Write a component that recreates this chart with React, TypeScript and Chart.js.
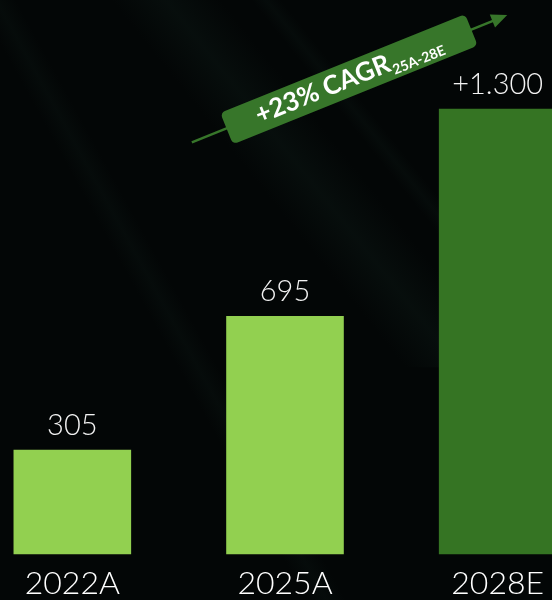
import React, { useEffect, useRef } from "react";
import { Chart, registerables } from "chart.js";

Chart.register(...registerables);

const categories = ["2022A", "2025A", "2028E"];
const values = [305, 695, 1300];
const valueLabels = ["305", "695", "+1.300"];
const barColors = ["#92D050", "#92D050", "#357423"];
const cagrMain = "+23% CAGR";
const cagrSub = "25A-28E";

const FONT = "Lato, 'Open Sans', sans-serif";

export default function App() {
  const ref = useRef<HTMLCanvasElement>(null);

  useEffect(() => {
    document.body.style.margin = "0";
    document.body.style.overflow = "hidden";
    document.body.style.background = "#030606";

    const bgPlugin = {
      id: "bg",
      beforeDraw(chart: any) {
        const { ctx, width, height } = chart;
        ctx.save();
        ctx.fillStyle = "#030606";
        ctx.fillRect(0, 0, width, height);
        const drawStreak = (xTop: number, w: number, slope: number, alpha: number, h: number) => {
          ctx.save();
          ctx.translate(xTop, 0);
          ctx.transform(1, 0, slope, 1, 0, 0);
          const g = ctx.createLinearGradient(-w / 2, 0, w / 2, 0);
          g.addColorStop(0, "rgba(25,50,42,0)");
          g.addColorStop(0.5, `rgba(25,50,42,${alpha})`);
          g.addColorStop(1, "rgba(25,50,42,0)");
          ctx.fillStyle = g;
          ctx.fillRect(-w / 2, 0, w, h);
          ctx.restore();
        };
        drawStreak(200, 110, 0.8, 0.18, height * 0.6);
        drawStreak(300, 30, 0.8, 0.12, height * 0.5);
        drawStreak(30, 40, 0.55, 0.12, height);
        ctx.restore();
      },
    };

    const annotPlugin = {
      id: "annot",
      afterDatasetsDraw(chart: any) {
        const { ctx } = chart;
        const xs = chart.scales.x;
        const ys = chart.scales.y;
        const meta = chart.getDatasetMeta(0);

        // value labels
        ctx.save();
        ctx.fillStyle = "#F2F2F2";
        ctx.font = `300 29px ${FONT}`;
        ctx.textAlign = "center";
        ctx.textBaseline = "alphabetic";
        meta.data.forEach((bar: any, i: number) => {
          ctx.fillText(valueLabels[i], bar.x, bar.y - 15);
        });
        ctx.restore();

        // CAGR arrow
        const sx = xs.getPixelForValue(0.562);
        const sy = ys.getPixelForValue(1202);
        const ex = xs.getPixelForValue(2.045);
        const ey = ys.getPixelForValue(1573);
        const ang = Math.atan2(ey - sy, ex - sx);
        const len = Math.hypot(ex - sx, ey - sy);
        const green = "#37762A";
        ctx.save();
        ctx.translate(sx, sy);
        ctx.rotate(ang);
        ctx.strokeStyle = green;
        ctx.lineWidth = 2.5;
        ctx.beginPath();
        ctx.moveTo(0, 0);
        ctx.lineTo(len - 12, 0);
        ctx.stroke();
        ctx.fillStyle = green;
        ctx.beginPath();
        ctx.moveTo(len, 0);
        ctx.lineTo(len - 16, -7);
        ctx.lineTo(len - 16, 7);
        ctx.closePath();
        ctx.fill();
        ctx.restore();

        // badge
        const cx = xs.getPixelForValue(1.301);
        const cy = ys.getPixelForValue(1386);
        const bw = 264;
        const bh = 34;
        ctx.save();
        ctx.translate(cx, cy);
        ctx.rotate(ang);
        ctx.fillStyle = green;
        ctx.beginPath();
        (ctx as any).roundRect(-bw / 2, -bh / 2, bw, bh, 5);
        ctx.fill();
        ctx.fillStyle = "#FFFFFF";
        ctx.textBaseline = "alphabetic";
        ctx.textAlign = "left";
        ctx.font = `bold 26px ${FONT}`;
        const w1 = ctx.measureText(cagrMain).width;
        ctx.font = `bold 14px ${FONT}`;
        const w2 = ctx.measureText(cagrSub).width;
        const startX = -(w1 + w2 + 1) / 2;
        ctx.font = `bold 26px ${FONT}`;
        ctx.fillText(cagrMain, startX, 8);
        ctx.font = `bold 14px ${FONT}`;
        ctx.fillText(cagrSub, startX + w1 + 1, 13);
        ctx.restore();
      },
    };

    const chart = new Chart(ref.current as HTMLCanvasElement, {
      type: "bar",
      data: {
        labels: categories,
        datasets: [
          {
            data: values,
            backgroundColor: barColors,
            borderWidth: 0,
            categoryPercentage: 1,
            barPercentage: 0.553,
          },
        ],
      },
      options: {
        animation: false,
        responsive: true,
        maintainAspectRatio: false,
        layout: { padding: 0 },
        plugins: {
          legend: { display: false },
          tooltip: { enabled: false },
        },
        scales: {
          x: {
            grid: { display: false, drawTicks: false },
            border: { display: false },
            ticks: {
              color: "#FFFFFF",
              font: { family: FONT, size: 32, weight: "300" as any },
              padding: 9.6,
              maxRotation: 0,
              autoSkip: false,
            },
          },
          y: {
            display: false,
            min: 0,
            max: 1617,
          },
        },
      },
      plugins: [bgPlugin, annotPlugin],
    });
    return () => chart.destroy();
  }, []);

  return (
    <div style={{ position: "absolute", left: -34, top: 0, width: 638, height: 612 }}>
      <canvas ref={ref} />
    </div>
  );
}
